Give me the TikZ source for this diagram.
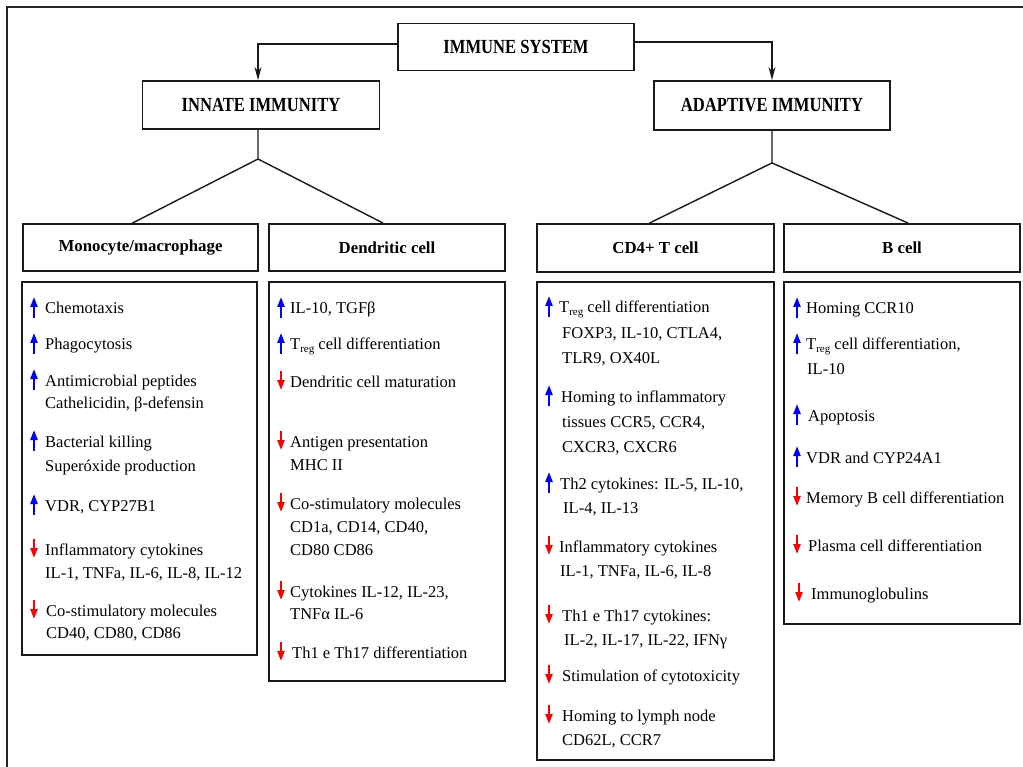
\documentclass[tikz,border=0pt]{standalone}
\usepackage{fontspec}
\setmainfont{Liberation Serif}
\newfontfamily\condfont{Liberation Serif}[FakeStretch=0.83]
\usetikzlibrary{arrows.meta,calc}
\newcommand{\Treg}{T\raisebox{-0.35ex}{\fontsize{11}{11}\selectfont reg}}
\newcommand{\ent}[4]{\node[txt] (#1) at (#2,#3) {#4};}
\newcommand{\uparrowat}[2]{\draw[uparr] (#1,{#2+4}) -- (#1,{#2-17});}
\newcommand{\dnarrowat}[2]{\draw[dnarr] (#1,{#2-16}) -- (#1,{#2+3});}
\tikzset{
  frameline/.style={line width=2.5pt, draw=black!85},
  mainbox/.style={draw=black!90, line width=1.9pt, rectangle, inner sep=0pt,
    font=\condfont\bfseries\fontsize{20}{22}\selectfont},
  cellbox/.style={draw=black!90, line width=1.9pt, rectangle, inner sep=0pt,
    font=\bfseries\fontsize{16.8}{19}\selectfont},
  detailbox/.style={draw=black!90, line width=1.9pt, rectangle, inner sep=0pt},
  txt/.style={anchor=base west, inner sep=0pt, font=\fontsize{16.5}{19}\selectfont},
  uparr/.style={draw=blue, line width=2.2pt, -{Triangle[length=10pt,width=7pt]}},
  dnarr/.style={draw=red, line width=2.2pt, -{Triangle[length=10pt,width=7pt]}},
  conn/.style={draw=black!90, line width=1.3pt, -{Stealth[length=13pt,width=7pt]}},
  tree/.style={draw=black!90, line width=1.4pt},
}
\begin{document}
\begin{tikzpicture}[x=1pt,y=-1pt]
\useasboundingbox (0,0) rectangle (1023,767);
\draw[frameline] (7,767) -- (7,7) -- (1023,7);

% top level
\node[mainbox, minimum width=236, minimum height=47] (imm) at (516,47) {IMMUNE SYSTEM};
\node[mainbox, minimum width=237, minimum height=48] (innate) at (261,105) {INNATE IMMUNITY};
\node[mainbox, minimum width=236, minimum height=49] (adapt) at (772,105.5) {ADAPTIVE IMMUNITY};
\coordinate (apL) at (258,159);
\coordinate (apR) at ($(adapt.south)+(0,32)$);
\draw[conn] ($(imm.west)+(0,-3)$) -| (innate.north -| apL);
\draw[conn] ($(imm.east)+(0,-5)$) -| (adapt.north);

% cell headers
\node[cellbox, minimum width=235, minimum height=47] (mono) at (140.5,247.5) {Monocyte/macrophage};
\node[cellbox, minimum width=236, minimum height=47] (dend) at (387,247.5) {Dendritic cell};
\node[cellbox, minimum width=237, minimum height=48] (cdt) at (655.5,248) {CD4+ T cell};
\node[cellbox, minimum width=236, minimum height=48] (bcell) at (902,248) {B cell};

\draw[tree] (innate.south -| apL) -- (apL) -- ($(mono.north)+(-8,0)$);
\draw[tree] (apL) -- ($(dend.north)+(-4,0)$);
\draw[tree] (adapt.south) -- (apR) -- ($(cdt.north)+(-6,0)$);
\draw[tree] (apR) -- ($(bcell.north)+(6,0)$);

% detail boxes
\node[detailbox, minimum width=235, minimum height=373] (monod) at (139.5,468.5) {};
\node[detailbox, minimum width=236, minimum height=399] (dendd) at (387,481.5) {};
\node[detailbox, minimum width=237, minimum height=478] (cdtd) at (655.5,521) {};
\node[detailbox, minimum width=236, minimum height=342] (bcelld) at (902,453) {};

% Monocyte/macrophage
\uparrowat{34}{314} \ent{m1}{45}{314}{Chemotaxis}
\uparrowat{34}{350} \ent{m2}{45}{350}{Phagocytosis}
\uparrowat{34}{386} \ent{m3}{45}{386}{Antimicrobial peptides}
\ent{m3b}{45}{408}{Cathelicidin, β-defensin}
\uparrowat{34}{447} \ent{m4}{45}{447}{Bacterial killing}
\ent{m4b}{45}{471}{Superóxide production}
\uparrowat{34}{511} \ent{m5}{45}{511}{VDR, CYP27B1}
\dnarrowat{34}{555} \ent{m6}{45}{555}{Inflammatory cytokines}
\ent{m6b}{45}{578}{IL-1, TNFa, IL-6, IL-8, IL-12}
\dnarrowat{34}{616} \ent{m7}{46}{616}{Co-stimulatory molecules}
\ent{m7b}{46}{638}{CD40, CD80, CD86}

% Dendritic cell
\uparrowat{281}{314} \ent{d1}{290}{314}{IL-10, TGFβ}
\uparrowat{281}{350} \ent{d2}{290}{350}{\Treg{} cell differentiation}
\dnarrowat{281}{387} \ent{d3}{290}{387}{Dendritic cell maturation}
\dnarrowat{281}{447} \ent{d4}{290}{447}{Antigen presentation}
\ent{d4b}{290}{470}{MHC II}
\dnarrowat{281}{509} \ent{d5}{290}{509}{Co-stimulatory molecules}
\ent{d5b}{290}{532}{CD1a, CD14, CD40,}
\ent{d5c}{290}{555}{CD80 CD86}
\dnarrowat{281}{597} \ent{d6}{290}{597}{Cytokines IL-12, IL-23,}
\ent{d6b}{290}{619}{TNFα IL-6}
\dnarrowat{281}{658} \ent{d7}{292}{658}{Th1 e Th17 differentiation}

% CD4+ T cell
\uparrowat{549}{313} \ent{c1}{559}{313}{\Treg{} cell differentiation}
\ent{c1b}{562}{338}{FOXP3, IL-10, CTLA4,}
\ent{c1c}{562}{363}{TLR9, OX40L}
\uparrowat{549}{402} \ent{c2}{561}{402}{Homing to inflammatory}
\ent{c2b}{562}{427}{tissues CCR5, CCR4,}
\ent{c2c}{562}{452}{CXCR3, CXCR6}
\uparrowat{549}{489} \ent{c3}{560}{489}{Th2 cytokines: IL-5, IL-10,}
\ent{c3b}{563}{513}{IL-4, IL-13}
\dnarrowat{549}{552} \ent{c4}{559}{552}{Inflammatory cytokines}
\ent{c4b}{560}{576}{IL-1, TNFa, IL-6, IL-8}
\dnarrowat{549}{621} \ent{c5}{562}{621}{Th1 e Th17 cytokines:}
\ent{c5b}{564}{645}{IL-2, IL-17, IL-22, IFNγ}
\dnarrowat{549}{681} \ent{c6}{562}{681}{Stimulation of cytotoxicity}
\dnarrowat{549}{721} \ent{c7}{562}{721}{Homing to lymph node}
\ent{c7b}{562}{745}{CD62L, CCR7}

% B cell
\uparrowat{797}{314} \ent{b1}{806}{314}{Homing CCR10}
\uparrowat{797}{350} \ent{b2}{806}{350}{\Treg{} cell differentiation,}
\ent{b2b}{807}{374}{IL-10}
\uparrowat{797}{421} \ent{b3}{808}{421}{Apoptosis}
\uparrowat{797}{463} \ent{b4}{806}{463}{VDR and CYP24A1}
\dnarrowat{797}{503} \ent{b5}{806}{503}{Memory B cell differentiation}
\dnarrowat{797}{551} \ent{b6}{808}{551}{Plasma cell differentiation}
\dnarrowat{799}{599} \ent{b7}{811}{599}{Immunoglobulins}
\end{tikzpicture}
\end{document}
